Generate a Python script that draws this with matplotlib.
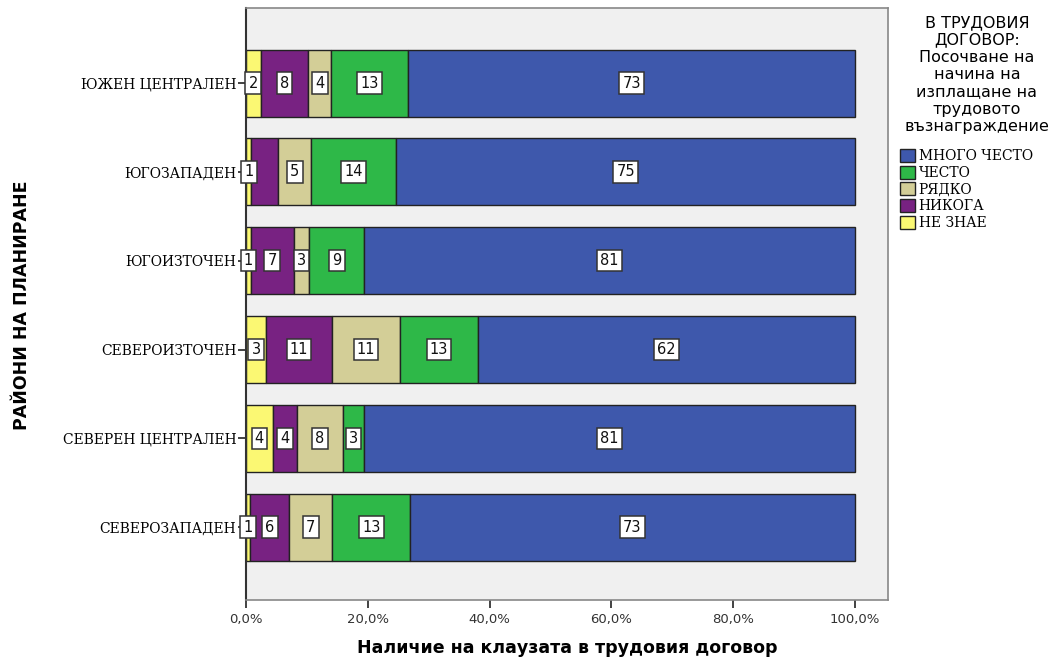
import matplotlib
matplotlib.use('Agg')
from matplotlib import pyplot as plt
from matplotlib.patches import Patch

regions = ['СЕВЕРОЗАПАДЕН', 'СЕВЕРЕН ЦЕНТРАЛЕН', 'СЕВЕРОИЗТОЧЕН',
           'ЮГОИЗТОЧЕН', 'ЮГОЗАПАДЕН', 'ЮЖЕН ЦЕНТРАЛЕН']

series = ['НЕ ЗНАЕ', 'НИКОГА', 'РЯДКО', 'ЧЕСТО', 'МНОГО ЧЕСТО']

ne_znae = [0.7, 4.4, 3.3, 0.8, 0.9, 2.4]
nikoga = [6.4, 3.9, 10.8, 7.0, 4.4, 7.8]
riadko = [7.1, 7.7, 11.2, 2.6, 5.4, 3.8]
chesto = [12.7, 3.3, 12.8, 9.0, 14.0, 12.6]
mnogo_chesto = [73.1, 80.7, 61.9, 80.6, 75.3, 73.4]

# labels shown on bars (SPSS dropped one)
hidden = {('ЮГОЗАПАДЕН', 'НИКОГА')}

colors = ['#fbf873', '#782282', '#d3ce97', '#2eb848', '#3e58ac']
values = [ne_znae, nikoga, riadko, chesto, mnogo_chesto]

fig = plt.figure(figsize=(10.51, 6.61), dpi=100)
ax = fig.add_axes([246 / 1051, 1 - 600 / 661, (888 - 246) / 1051, (600 - 8) / 661])
ax.set_facecolor('#f0f0f0')

y = list(range(len(regions)))
left = [0.0] * len(regions)
for name, vals, col in zip(series, values, colors):
    ax.barh(y, vals, left=left, height=0.755, color=col, edgecolor='#222222', linewidth=1.0)
    for i, v in enumerate(vals):
        if (regions[i], name) in hidden:
            continue
        ax.text(left[i] + v / 2, y[i], str(int(round(v))), ha='center', va='center',
                fontsize=10.5, color='#111111',
                bbox=dict(boxstyle='square,pad=0.22', fc='white', ec='#333333', lw=1.1))
    left = [l + v for l, v in zip(left, vals)]

ax.set_xlim(0, 105.4)
ax.set_ylim(-0.82, 5.845)
ax.set_xticks([0, 20, 40, 60, 80, 100])
ax.set_xticklabels(['0,0%', '20,0%', '40,0%', '60,0%', '80,0%', '100,0%'],
                   fontsize=9.5, color='#333333')
ax.set_yticks(y)
ax.set_yticklabels(regions, family='DejaVu Serif', fontsize=10)
ax.tick_params(axis='both', length=6, width=1.2, color='#222222')
ax.tick_params(axis='x', pad=3)
ax.tick_params(axis='y', pad=1)

for s in ['top', 'right', 'bottom']:
    ax.spines[s].set_color('#888888')
    ax.spines[s].set_linewidth(1.2)
ax.spines['left'].set_color('#333333')
ax.spines['left'].set_linewidth(1.5)

ax.set_xlabel('Наличие на клаузата в трудовия договор', fontsize=12.5,
              fontweight='bold', labelpad=10)
fig.text(22 / 1051, 1 - 305 / 661, 'РАЙОНИ НА ПЛАНИРАНЕ', rotation=90,
         ha='center', va='center', fontsize=12.5, fontweight='bold')

fig.text(977 / 1051, 1 - 15 / 661,
         'В ТРУДОВИЯ\nДОГОВОР:\nПосочване на\nначина на\nизплащане на\nтрудовото\nвъзнаграждение',
         ha='center', va='top', fontsize=11.5, linespacing=1.2)

handles = [Patch(facecolor=c, edgecolor='#222222', label=n)
           for n, c in zip(series[::-1], colors[::-1])]
fig.legend(handles=handles, loc='upper left', bbox_to_anchor=(900 / 1051, 1 - 149 / 661),
           frameon=False, prop={'family': 'DejaVu Serif', 'size': 10},
           handlelength=1.05, handleheight=1.05, handletextpad=0.3,
           labelspacing=0.18, borderaxespad=0, borderpad=0)

fig.savefig('out.png', dpi=100)
